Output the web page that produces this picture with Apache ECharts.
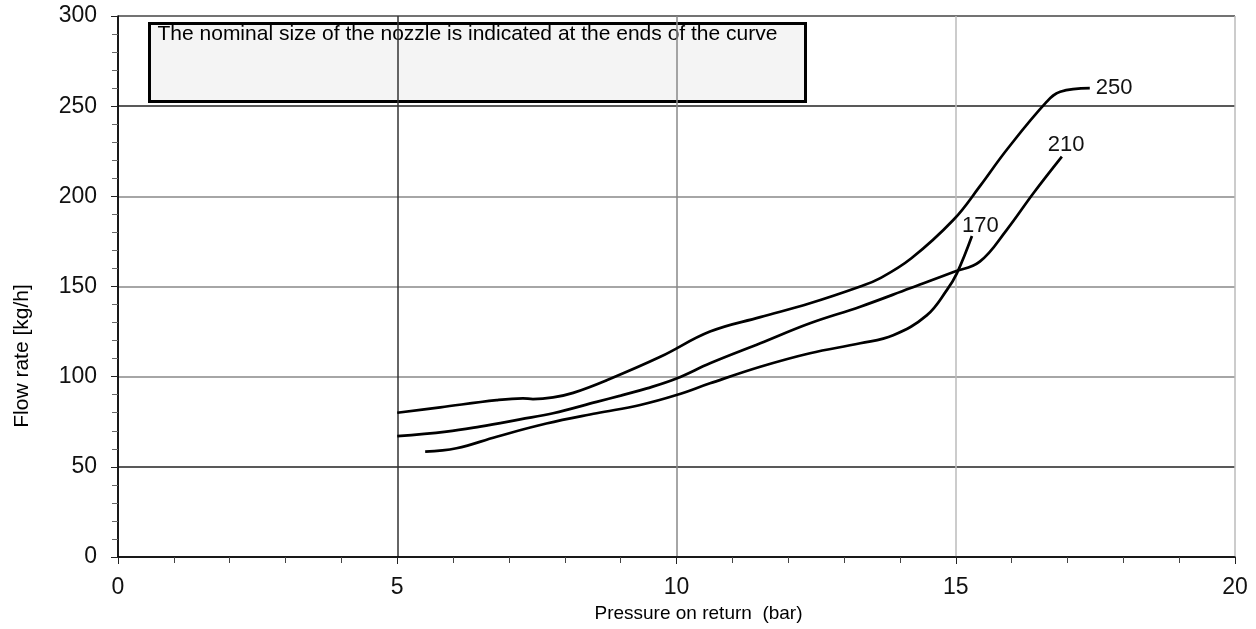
<!DOCTYPE html>
<html>
<head>
<meta charset="utf-8">
<script src="https://cdn.jsdelivr.net/npm/echarts@6/dist/echarts.min.js"></script>
<style>html,body{margin:0;padding:0;background:#fff}#c{width:1256px;height:629px}</style>
</head>
<body>
<div id="c"></div>
<script>
const xTicks = [0, 5, 10, 15, 20];
const yTicks = [0, 50, 100, 150, 200, 250, 300];
const seriesNames = ['250', '210', '170'];
const curve250 = [[5.0,80],[5.77,83],[6.78,87],[7.25,88],[7.43,87.6],[7.79,88.5],[8.15,91],[8.75,98],[9.71,111],[10.6,125],[11.5,133],[12.39,140.7],[13.29,150],[13.64,154.5],[14.2,165.5],[14.96,187],[15.43,205.5],[15.91,225.7],[16.63,252.5],[16.87,258],[17.4,260]];
const curve210 = [[5.0,67],[5.88,69.5],[6.48,72.3],[7.2,76.3],[7.79,79.7],[8.57,86],[9.0,89.5],[9.47,93.5],[10.0,99],[10.6,107.4],[11.5,118.5],[12.39,129.6],[13.29,138.8],[14.18,149],[14.96,158],[15.43,163.8],[15.91,181.3],[16.39,201.7],[16.9,222]];
const curve170 = [[5.5,58.4],[6.06,60.3],[6.78,66.7],[7.67,74],[8.57,79.7],[9.35,84.3],[10.0,89.8],[10.6,96.3],[11.5,105.5],[12.39,113],[13.29,118.5],[13.88,123],[14.48,134],[14.84,148],[15.02,157.3],[15.29,178]];
const noteText = 'The nominal size of the nozzle is indicated at the ends of the curve';
const xName = 'Pressure on return  (bar)';
const yName = 'Flow rate [kg/h]';

const chart = echarts.init(document.getElementById('c'));
const labelOffsets = [[-2, 0], [-22, -12], [-18, -10]];
const curves = [curve250, curve210, curve170];
const fontFamily = 'Liberation Sans, Arial, sans-serif';

chart.setOption({
  animation: false,
  grid: {left: 118, right: 21, top: 16, bottom: 72, containLabel: false},
  xAxis: {
    type: 'value', min: xTicks[0], max: xTicks[xTicks.length-1], interval: 5,
    name: xName, nameLocation: 'middle', nameGap: 46,
    nameTextStyle: {fontSize: 19, color: '#000', fontFamily, padding: [0, 0, 0, 44]},
    axisLine: {show: true, lineStyle: {color: '#000', width: 1.5}},
    axisTick: {show: true, length: 7, lineStyle: {color: '#222'}},
    minorTick: {show: true, splitNumber: 5, length: 6, lineStyle: {color: '#444'}},
    axisLabel: {fontSize: 23, color: '#111', margin: 19, fontFamily},
    splitLine: {show: true, lineStyle: {color: ['#333', '#333', '#888', '#bbb', '#bbb'], width: 1.5}}
  },
  yAxis: {
    type: 'value', min: yTicks[0], max: yTicks[yTicks.length-1], interval: 50,
    axisLine: {show: true, lineStyle: {color: '#000', width: 1.5}},
    axisTick: {show: true, length: 7, lineStyle: {color: '#222'}},
    minorTick: {show: true, splitNumber: 5, length: 6, lineStyle: {color: '#666'}},
    axisLabel: {fontSize: 23, color: '#111', margin: 21, fontFamily},
    splitLine: {show: true, lineStyle: {color: ['#333', '#222', '#888', '#888', '#888', '#222', '#444'], width: 1.5}}
  },
  series: curves.map((d, i) => ({
    name: seriesNames[i], type: 'line', data: d, smooth: 0.4, showSymbol: false,
    lineStyle: {color: '#000', width: 2.7},
    endLabel: {show: true, formatter: seriesNames[i], fontSize: 22, color: '#111', fontFamily, offset: labelOffsets[i]}
  })),
  graphic: [{
    type: 'group', left: 148, top: 22,
    children: [
      {type: 'rect', shape: {x: 0, y: 0, width: 656, height: 78}, style: {fill: '#f4f4f4', stroke: '#000', lineWidth: 3}},
      {type: 'text', x: 8, y: 11, style: {text: noteText, font: '21px ' + fontFamily, fill: '#000', verticalAlign: 'middle'}}
    ]
  }, {
    type: 'text', x: 22, y: 356, rotation: Math.PI / 2,
    style: {text: yName, font: '21px ' + fontFamily, fill: '#000', align: 'center', verticalAlign: 'middle'}
  }]
});
</script>
</body>
</html>
